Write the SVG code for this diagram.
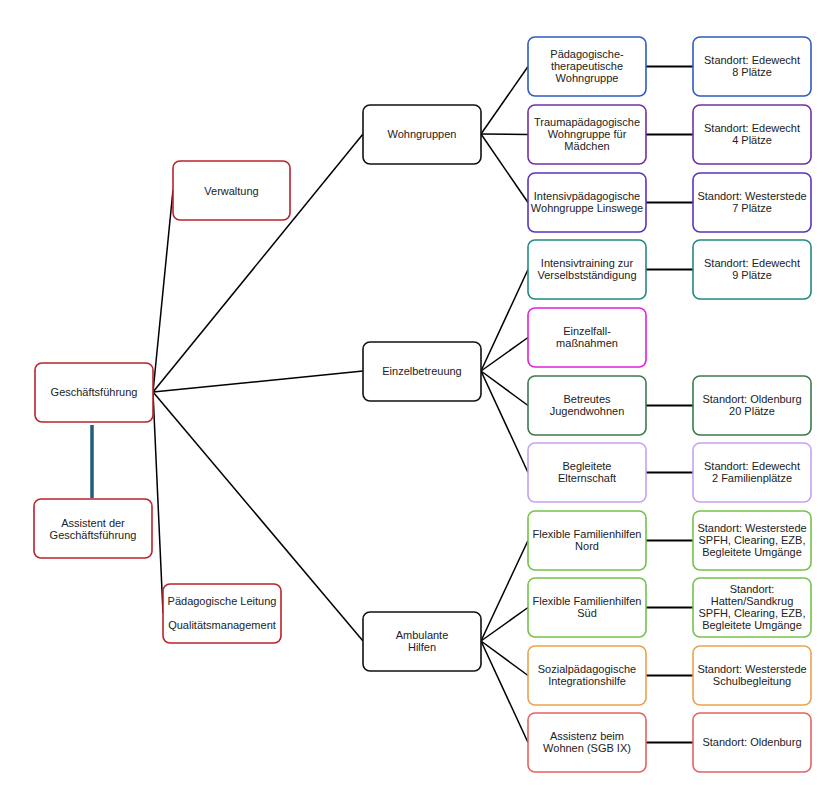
<svg xmlns="http://www.w3.org/2000/svg" width="829" height="785" viewBox="0 0 829 785">
<style>
text{font-family:"Liberation Sans",Arial,sans-serif;font-size:11px;fill:#222;text-anchor:middle}
rect{fill:#fff;stroke-width:1.6}
.red{stroke:#b8232b}
.blk{stroke:#111}
.c1{stroke:#2e5cc0}
.c2{stroke:#7030a0}
.c3{stroke:#5a32c0}
.c4{stroke:#23897f}
.c5{stroke:#e020d8}
.c6{stroke:#3a7a4c}
.c7{stroke:#c4a2f2}
.c8{stroke:#74c24a}
.c9{stroke:#eba24c}
.c10{stroke:#e56262}
#connectors line{stroke:#000;stroke-width:1.5}
#connectors .h{stroke-width:2}
</style>
<rect width="829" height="785" fill="#fff" stroke="none"/>
<g id="connectors">
<line x1="153" y1="392" x2="173" y2="190"/>
<line x1="153" y1="392" x2="363" y2="134"/>
<line x1="153" y1="392" x2="363" y2="371"/>
<line x1="153" y1="392" x2="363" y2="641"/>
<line x1="153" y1="392" x2="163" y2="613"/>
<line x1="92" y1="425" x2="92" y2="498" style="stroke:#1f5f7c;stroke-width:3.5"/>
<line x1="481" y1="134" x2="528" y2="66.5"/>
<line x1="481" y1="134" x2="528" y2="134.5"/>
<line x1="481" y1="134" x2="528" y2="202.5"/>
<line x1="481" y1="371" x2="528" y2="269.5"/>
<line x1="481" y1="371" x2="528" y2="337.5"/>
<line x1="481" y1="371" x2="528" y2="405.5"/>
<line x1="481" y1="371" x2="528" y2="472.5"/>
<line x1="481" y1="641" x2="528" y2="540.5"/>
<line x1="481" y1="641" x2="528" y2="607.5"/>
<line x1="481" y1="641" x2="528" y2="675.5"/>
<line x1="481" y1="641" x2="528" y2="742.5"/>
<line class="h" x1="646" y1="66.5" x2="693" y2="66.5"/>
<line class="h" x1="646" y1="134.5" x2="693" y2="134.5"/>
<line class="h" x1="646" y1="202.5" x2="693" y2="202.5"/>
<line class="h" x1="646" y1="269.5" x2="693" y2="269.5"/>
<line class="h" x1="646" y1="405.5" x2="693" y2="405.5"/>
<line class="h" x1="646" y1="472.5" x2="693" y2="472.5"/>
<line class="h" x1="646" y1="540.5" x2="693" y2="540.5"/>
<line class="h" x1="646" y1="607.5" x2="693" y2="607.5"/>
<line class="h" x1="646" y1="675.5" x2="693" y2="675.5"/>
<line class="h" x1="646" y1="742.5" x2="693" y2="742.5"/>
</g>

<g id="verwaltung"><rect class="red" x="173" y="161" width="117" height="59" rx="7"/><text x="231.5" y="195">Verwaltung</text></g>
<g id="geschaeftsfuehrung"><rect class="red" x="35" y="363" width="118" height="59" rx="7"/><text x="94" y="396">Geschäftsführung</text></g>
<g id="assistent"><rect class="red" x="34" y="499" width="118" height="59" rx="7"/><text x="93" y="527">Assistent der</text><text x="93" y="539">Geschäftsführung</text></g>
<g id="paed-leitung"><rect class="red" x="163" y="584" width="118" height="59" rx="7"/><text x="222" y="605">Pädagogische Leitung</text><text x="222" y="629">Qualitätsmanagement</text></g>

<g id="wohngruppen"><rect class="blk" x="363" y="105" width="118" height="59" rx="7"/><text x="422" y="138">Wohngruppen</text></g>
<g id="einzelbetreuung"><rect class="blk" x="363" y="342" width="118" height="59" rx="7"/><text x="422" y="375">Einzelbetreuung</text></g>
<g id="ambulante"><rect class="blk" x="363" y="612" width="118" height="59" rx="7"/><text x="422" y="639">Ambulante</text><text x="422" y="651">Hilfen</text></g>

<g id="n1"><rect class="c1" x="528" y="37" width="118" height="59" rx="7"/><text x="587" y="58">Pädagogische-</text><text x="587" y="70">therapeutische</text><text x="587" y="82">Wohngruppe</text></g>
<g id="n2"><rect class="c2" x="528" y="105" width="118" height="59" rx="7"/><text x="587" y="126">Traumapädagogische</text><text x="587" y="138">Wohngruppe für</text><text x="587" y="150">Mädchen</text></g>
<g id="n3"><rect class="c3" x="528" y="173" width="118" height="59" rx="7"/><text x="587" y="200">Intensivpädagogische</text><text x="587" y="212">Wohngruppe Linswege</text></g>
<g id="n4"><rect class="c4" x="528" y="240" width="118" height="59" rx="7"/><text x="587" y="267">Intensivtraining zur</text><text x="587" y="279">Verselbstständigung</text></g>
<g id="n5"><rect class="c5" x="528" y="308" width="118" height="59" rx="7"/><text x="587" y="335">Einzelfall-</text><text x="587" y="347">maßnahmen</text></g>
<g id="n6"><rect class="c6" x="528" y="376" width="118" height="59" rx="7"/><text x="587" y="403">Betreutes</text><text x="587" y="415">Jugendwohnen</text></g>
<g id="n7"><rect class="c7" x="528" y="443" width="118" height="59" rx="7"/><text x="587" y="470">Begleitete</text><text x="587" y="482">Elternschaft</text></g>
<g id="n8"><rect class="c8" x="528" y="511" width="118" height="59" rx="7"/><text x="587" y="538">Flexible Familienhilfen</text><text x="587" y="550">Nord</text></g>
<g id="n9"><rect class="c8" x="528" y="578" width="118" height="59" rx="7"/><text x="587" y="605">Flexible Familienhilfen</text><text x="587" y="617">Süd</text></g>
<g id="n10"><rect class="c9" x="528" y="646" width="118" height="59" rx="7"/><text x="587" y="673">Sozialpädagogische</text><text x="587" y="685">Integrationshilfe</text></g>
<g id="n11"><rect class="c10" x="528" y="713" width="118" height="59" rx="7"/><text x="587" y="740">Assistenz beim</text><text x="587" y="752">Wohnen (SGB IX)</text></g>

<g id="s1"><rect class="c1" x="693" y="37" width="118" height="59" rx="7"/><text x="752" y="64">Standort: Edewecht</text><text x="752" y="76">8 Plätze</text></g>
<g id="s2"><rect class="c2" x="693" y="105" width="118" height="59" rx="7"/><text x="752" y="132">Standort: Edewecht</text><text x="752" y="144">4 Plätze</text></g>
<g id="s3"><rect class="c3" x="693" y="173" width="118" height="59" rx="7"/><text x="752" y="200">Standort: Westerstede</text><text x="752" y="212">7 Plätze</text></g>
<g id="s4"><rect class="c4" x="693" y="240" width="118" height="59" rx="7"/><text x="752" y="267">Standort: Edewecht</text><text x="752" y="279">9 Plätze</text></g>
<g id="s6"><rect class="c6" x="693" y="376" width="118" height="59" rx="7"/><text x="752" y="403">Standort: Oldenburg</text><text x="752" y="415">20 Plätze</text></g>
<g id="s7"><rect class="c7" x="693" y="443" width="118" height="59" rx="7"/><text x="752" y="470">Standort: Edewecht</text><text x="752" y="482">2 Familienplätze</text></g>
<g id="s8"><rect class="c8" x="693" y="511" width="118" height="59" rx="7"/><text x="752" y="532">Standort: Westerstede</text><text x="752" y="544">SPFH, Clearing, EZB,</text><text x="752" y="556">Begleitete Umgänge</text></g>
<g id="s9"><rect class="c8" x="693" y="578" width="118" height="59" rx="7"/><text x="752" y="593">Standort:</text><text x="752" y="605">Hatten/Sandkrug</text><text x="752" y="617">SPFH, Clearing, EZB,</text><text x="752" y="629">Begleitete Umgänge</text></g>
<g id="s10"><rect class="c9" x="693" y="646" width="118" height="59" rx="7"/><text x="752" y="673">Standort: Westerstede</text><text x="752" y="685">Schulbegleitung</text></g>
<g id="s11"><rect class="c10" x="693" y="713" width="118" height="59" rx="7"/><text x="752" y="746">Standort: Oldenburg</text></g>
</svg>
